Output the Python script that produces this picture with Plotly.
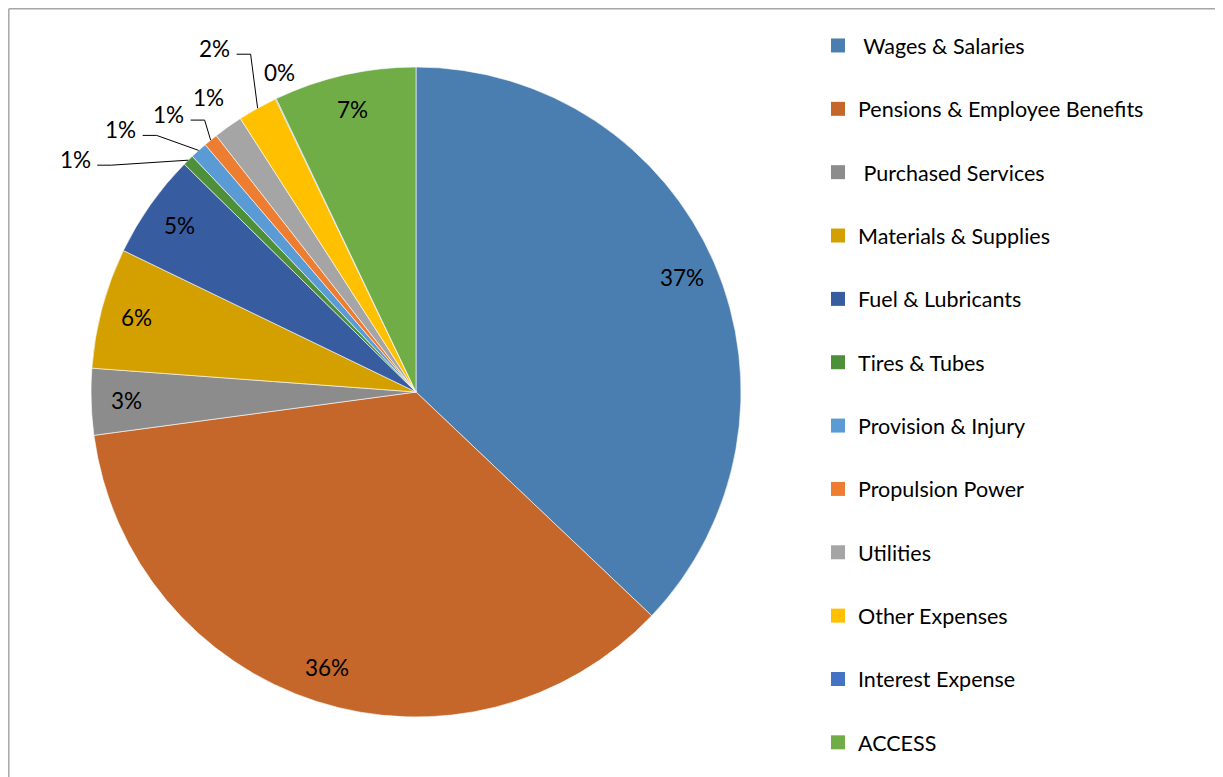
import math
import plotly.graph_objects as go

# expense categories, clockwise from 12 o'clock
labels = [" Wages & Salaries", "Pensions & Employee Benefits", " Purchased Services",
          "Materials & Supplies", "Fuel & Lubricants", "Tires & Tubes",
          "Provision & Injury", "Propulsion Power", "Utilities", "Other Expenses",
          "Interest Expense", "ACCESS"]
values = [37.1, 35.8, 3.3, 6.0, 5.2, 0.55, 0.85, 0.7, 1.45, 1.97, 0.04, 7.08]
colors = ["#4A7EB0", "#C5662A", "#8C8C8C", "#D4A000", "#385CA0", "#4E8F3A",
          "#5B9BD5", "#ED7D31", "#A5A5A5", "#FFC000", "#4472C4", "#70AD47"]

OFF = 8  # page body margin
W, H = 1223 - OFF, 777 - OFF
cx, cy, R = 416, 392, 325
FONT = "Lato"

# small slices: label offset from arc point (px) and leader line on/off
outside = {5: (-113, -1, True), 6: (-78, -21, True), 7: (-42, -26, True),
           8: (-20, -29, False), 9: (-43, -60, True), 10: (4, -26, False)}


def px(x, y):
    return (x - OFF) / W, 1 - (y - OFF) / H


fig = go.Figure()
x0d, y1d = px(cx - R, cy - R)
x1d, y0d = px(cx + R, cy + R)
fig.add_trace(go.Pie(
    labels=labels, values=values, sort=False, direction="clockwise", rotation=0,
    marker=dict(colors=colors, line=dict(color="white", width=0.6)),
    textinfo="none", showlegend=False,
    domain=dict(x=[x0d, x1d], y=[y0d, y1d]),
))

total = sum(values)
cum = 0
annotations = []
shapes = []
for i, v in enumerate(values):
    a = 2 * math.pi * (cum + v / 2) / total
    cum += v
    txt = "%d%%" % int(100 * v / total + 0.5)
    if i in outside:
        ax_, ay_ = cx + R * math.sin(a), cy - R * math.cos(a)
        dx, dy, lead = outside[i]
        lx, ly = ax_ + dx, ay_ + dy
        if lead:
            p0 = px(lx + 22, ly + 6)
            p1 = px(lx + 36, ly + 6)
            p2 = px(ax_, ay_)
            shapes.append(dict(type="path", xref="paper", yref="paper",
                               path=f"M {p0[0]},{p0[1]} L {p1[0]},{p1[1]} L {p2[0]},{p2[1]}",
                               line=dict(color="black", width=1)))
    else:
        lx, ly = cx + 0.89 * R * math.sin(a), cy - 0.89 * R * math.cos(a)
    x, y = px(lx, ly)
    annotations.append(dict(x=x, y=y, xref="paper", yref="paper", text=txt,
                            showarrow=False, xanchor="center", yanchor="middle",
                            font=dict(size=22.5, color="black", family=FONT)))

# legend entries, one group each so they can be spaced out
for lab, col in zip(labels, colors):
    fig.add_trace(go.Scatter(x=[None], y=[None], mode="markers", name=lab,
                             legendgroup=lab,
                             marker=dict(symbol="square", size=14, color=col)))

# chart border (top and left edges visible)
shapes.append(dict(type="line", xref="paper", yref="paper", x0=0.8 / W, x1=1,
                   y0=1 - 0.8 / H, y1=1 - 0.8 / H, line=dict(color="#A6A6A6", width=1.5)))
shapes.append(dict(type="line", xref="paper", yref="paper", x0=0.8 / W, x1=0.8 / W,
                   y0=0, y1=1 - 0.8 / H, line=dict(color="#A6A6A6", width=1.5)))

lgx, lgy = px(818, 25)
fig.update_layout(
    width=W, height=H, margin=dict(l=0, r=0, t=0, b=0),
    paper_bgcolor="white", plot_bgcolor="white",
    xaxis=dict(visible=False), yaxis=dict(visible=False),
    font=dict(family=FONT, size=21.5, color="black"),
    legend=dict(x=lgx, y=lgy, xanchor="left", yanchor="top",
                tracegroupgap=32.4, font=dict(size=21.5, family=FONT),
                bgcolor="rgba(0,0,0,0)"),
    annotations=annotations, shapes=shapes,
)

fig.write_html("out.html")
